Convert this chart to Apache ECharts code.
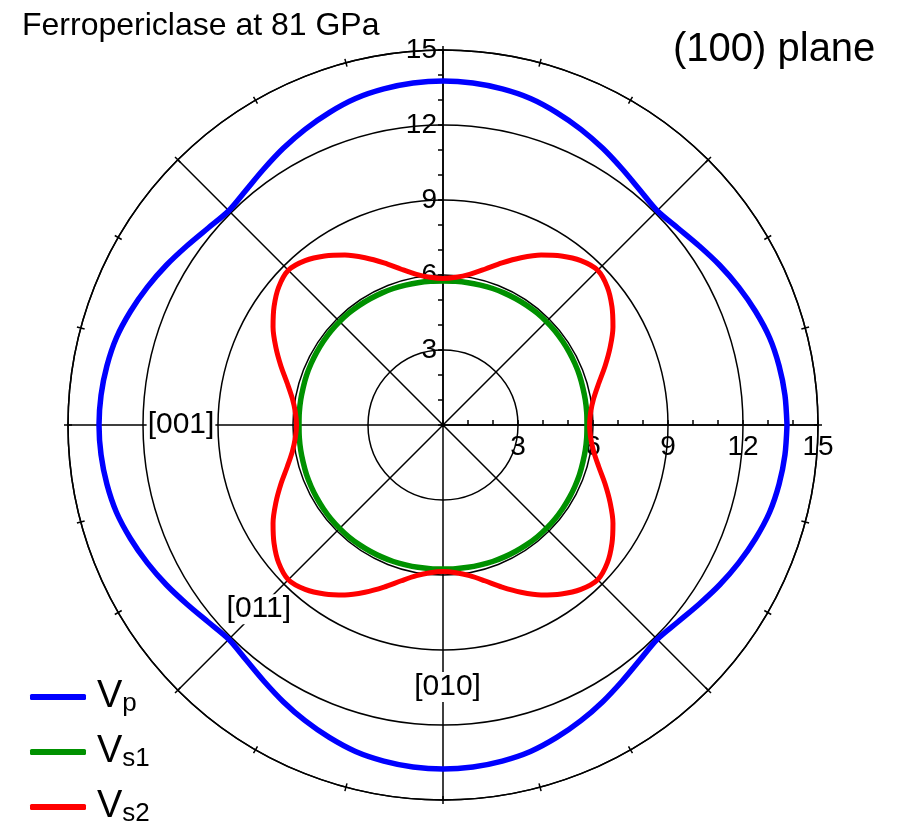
<!DOCTYPE html>
<html>
<head>
<meta charset="utf-8">
<script src="https://cdn.jsdelivr.net/npm/echarts@6/dist/echarts.min.js"></script>
<style>
  html, body { margin: 0; padding: 0; background: #ffffff; }
  #chart { width: 901px; height: 824px; }
</style>
</head>
<body>
<div id="chart"></div>
<script>
// Propagation directions in the (100) plane, degrees counter-clockwise from the east spoke
const angles = [
  0, 5, 10, 15, 20, 25, 30, 35, 40, 45, 50, 55, 60, 65, 70, 75, 80, 85,
  90, 95, 100, 105, 110, 115, 120, 125, 130, 135, 140, 145, 150, 155, 160, 165, 170, 175,
  180, 185, 190, 195, 200, 205, 210, 215, 220, 225, 230, 235, 240, 245, 250, 255, 260, 265,
  270, 275, 280, 285, 290, 295, 300, 305, 310, 315, 320, 325, 330, 335, 340, 345, 350, 355,
  360
];

// Compressional velocity Vp (km/s)
const vp = [
  13.76, 13.73, 13.65, 13.52, 13.30, 13.05, 12.78, 12.50, 12.26, 12.12, 12.26, 12.50, 12.78, 13.05, 13.30, 13.52, 13.65, 13.73,
  13.76, 13.73, 13.65, 13.52, 13.30, 13.05, 12.78, 12.50, 12.26, 12.12, 12.26, 12.50, 12.78, 13.05, 13.30, 13.52, 13.65, 13.73,
  13.76, 13.73, 13.65, 13.52, 13.30, 13.05, 12.78, 12.50, 12.26, 12.12, 12.26, 12.50, 12.78, 13.05, 13.30, 13.52, 13.65, 13.73,
  13.76, 13.73, 13.65, 13.52, 13.30, 13.05, 12.78, 12.50, 12.26, 12.12, 12.26, 12.50, 12.78, 13.05, 13.30, 13.52, 13.65, 13.73,
  13.76
];

// Slow shear velocity Vs1 (km/s)
const vs1 = [
  5.76, 5.77, 5.78, 5.79, 5.81, 5.82, 5.83, 5.84, 5.85, 5.85, 5.85, 5.84, 5.83, 5.82, 5.81, 5.79, 5.78, 5.77,
  5.76, 5.77, 5.78, 5.79, 5.81, 5.82, 5.83, 5.84, 5.85, 5.85, 5.85, 5.84, 5.83, 5.82, 5.81, 5.79, 5.78, 5.77,
  5.76, 5.77, 5.78, 5.79, 5.81, 5.82, 5.83, 5.84, 5.85, 5.85, 5.85, 5.84, 5.83, 5.82, 5.81, 5.79, 5.78, 5.77,
  5.76, 5.77, 5.78, 5.79, 5.81, 5.82, 5.83, 5.84, 5.85, 5.85, 5.85, 5.84, 5.83, 5.82, 5.81, 5.79, 5.78, 5.77,
  5.76
];

// Fast shear velocity Vs2 (km/s)
const vs2 = [
  5.86, 5.93, 6.12, 6.45, 6.90, 7.38, 7.85, 8.25, 8.58, 8.75, 8.58, 8.25, 7.85, 7.38, 6.90, 6.45, 6.12, 5.93,
  5.86, 5.93, 6.12, 6.45, 6.90, 7.38, 7.85, 8.25, 8.58, 8.75, 8.58, 8.25, 7.85, 7.38, 6.90, 6.45, 6.12, 5.93,
  5.86, 5.93, 6.12, 6.45, 6.90, 7.38, 7.85, 8.25, 8.58, 8.75, 8.58, 8.25, 7.85, 7.38, 6.90, 6.45, 6.12, 5.93,
  5.86, 5.93, 6.12, 6.45, 6.90, 7.38, 7.85, 8.25, 8.58, 8.75, 8.58, 8.25, 7.85, 7.38, 6.90, 6.45, 6.12, 5.93,
  5.86
];

// Crystallographic direction labels placed along the spokes
const dirNames = ['[001]', '[011]', '[010]'];
const dirAngles = [180, 225, 271];
const dirRadii = [10.48, 10.42, 10.48];

const seriesNames = ['Vp', 'Vs1', 'Vs2'];
const seriesColors = ['#0000ff', '#009100', '#ff0000'];

const FONT = 'Liberation Sans, Arial, sans-serif';
const CX = 443, CY = 425, R = 375;

const chart = echarts.init(document.getElementById('chart'), null, { renderer: 'canvas' });

const toPolar = (vals) => vals.map((v, i) => [v, angles[i]]);

const option = {
  backgroundColor: '#ffffff',
  animation: false,
  title: [
    {
      text: 'Ferropericlase at 81 GPa',
      left: 22, top: 10, padding: 0,
      textStyle: { fontFamily: FONT, fontSize: 32, fontWeight: 'normal', color: '#000' }
    },
    {
      text: '(100) plane',
      left: 673, top: 30, padding: 0,
      textStyle: { fontFamily: FONT, fontSize: 40, fontWeight: 'normal', color: '#000' }
    }
  ],
  legend: {
    orient: 'vertical',
    left: 30, top: 655, height: 230,
    padding: 0,
    itemGap: -7,
    itemWidth: 56, itemHeight: 6,
    icon: 'roundRect',
    data: seriesNames,
    formatter: (name) => '{v|V}{s|' + name.slice(1) + '}',
    textStyle: {
      color: '#000',
      fontFamily: FONT,
      rich: {
        v: { fontSize: 38, fontFamily: FONT, color: '#000', lineHeight: 40, padding: [0, 0, 0, 6], verticalAlign: 'middle' },
        s: { fontSize: 26, fontFamily: FONT, color: '#000', lineHeight: 26, padding: [36, 0, 0, 0], verticalAlign: 'bottom' }
      }
    }
  },
  polar: [
    { center: [CX, CY], radius: R },
    { center: [CX, CY], radius: R }
  ],
  angleAxis: [
    {
      polarIndex: 0,
      type: 'value', min: 0, max: 360, interval: 45,
      startAngle: 0, clockwise: false,
      axisLine: { show: true, lineStyle: { color: '#000', width: 1.5 } },
      axisTick: { show: true, inside: true, length: 4, lineStyle: { color: '#000', width: 1.5 } },
      minorTick: { show: true, splitNumber: 3, length: 4, lineStyle: { color: '#000', width: 1.5 } },
      axisLabel: { show: false },
      splitLine: { show: true, lineStyle: { color: '#000', width: 1.5 } }
    },
    {
      polarIndex: 1,
      type: 'value', min: 0, max: 360, interval: 45,
      startAngle: 90, clockwise: false,
      axisLine: { show: false },
      axisTick: { show: true, inside: false, length: 4, lineStyle: { color: '#000', width: 1.5 } },
      minorTick: { show: true, splitNumber: 3, length: 4, lineStyle: { color: '#000', width: 1.5 } },
      axisLabel: { show: false },
      splitLine: { show: false }
    }
  ],
  radiusAxis: [
    {
      polarIndex: 0,
      type: 'value', min: 0, max: 15, interval: 3,
      axisLine: { show: true, lineStyle: { color: '#000', width: 1.5 } },
      axisTick: { show: true, length: 5, lineStyle: { color: '#000', width: 1.5 } },
      minorTick: { show: true, splitNumber: 3, length: 5, lineStyle: { color: '#000', width: 1.5 } },
      splitLine: { show: true, lineStyle: { color: '#000', width: 1.5 } },
      axisLabel: {
        show: true, margin: -36, color: '#000', fontFamily: FONT, fontSize: 28,
        formatter: (v) => (v === 0 ? '' : String(v))
      }
    },
    {
      polarIndex: 1,
      type: 'value', min: 0, max: 15, interval: 3,
      axisLine: { show: true, lineStyle: { color: '#000', width: 1.5 } },
      axisTick: { show: true, length: 5, lineStyle: { color: '#000', width: 1.5 } },
      minorTick: { show: true, splitNumber: 3, length: 5, lineStyle: { color: '#000', width: 1.5 } },
      splitLine: { show: false },
      axisLabel: {
        show: true, margin: 6, color: '#000', fontFamily: FONT, fontSize: 28,
        formatter: (v) => (v === 0 ? '' : String(v))
      }
    }
  ],
  series: [
    {
      name: seriesNames[0], type: 'line', coordinateSystem: 'polar', polarIndex: 0,
      data: toPolar(vp), smooth: 0.3, showSymbol: false, symbol: 'none',
      lineStyle: { color: seriesColors[0], width: 5.5 }, itemStyle: { color: seriesColors[0] }, z: 3
    },
    {
      name: seriesNames[1], type: 'line', coordinateSystem: 'polar', polarIndex: 0,
      data: toPolar(vs1), smooth: 0.3, showSymbol: false, symbol: 'none',
      lineStyle: { color: seriesColors[1], width: 5.5 }, itemStyle: { color: seriesColors[1] }, z: 3
    },
    {
      name: seriesNames[2], type: 'line', coordinateSystem: 'polar', polarIndex: 0,
      data: toPolar(vs2), smooth: 0.3, showSymbol: false, symbol: 'none',
      lineStyle: { color: seriesColors[2], width: 5 }, itemStyle: { color: seriesColors[2] }, z: 4
    },
    {
      name: 'directions', type: 'scatter', coordinateSystem: 'polar', polarIndex: 0,
      symbolSize: 0, silent: true, z: 5,
      itemStyle: { opacity: 1 },
      data: dirNames.map((n, i) => ({ name: n, value: [dirRadii[i], dirAngles[i]] })),
      label: {
        show: true, position: 'inside', formatter: '{b}',
        color: '#000', opacity: 1, fontFamily: FONT, fontSize: 30,
        backgroundColor: '#ffffff', padding: [0, 1, 0, 1]
      }
    }
  ]
};

chart.setOption(option);
</script>
</body>
</html>
